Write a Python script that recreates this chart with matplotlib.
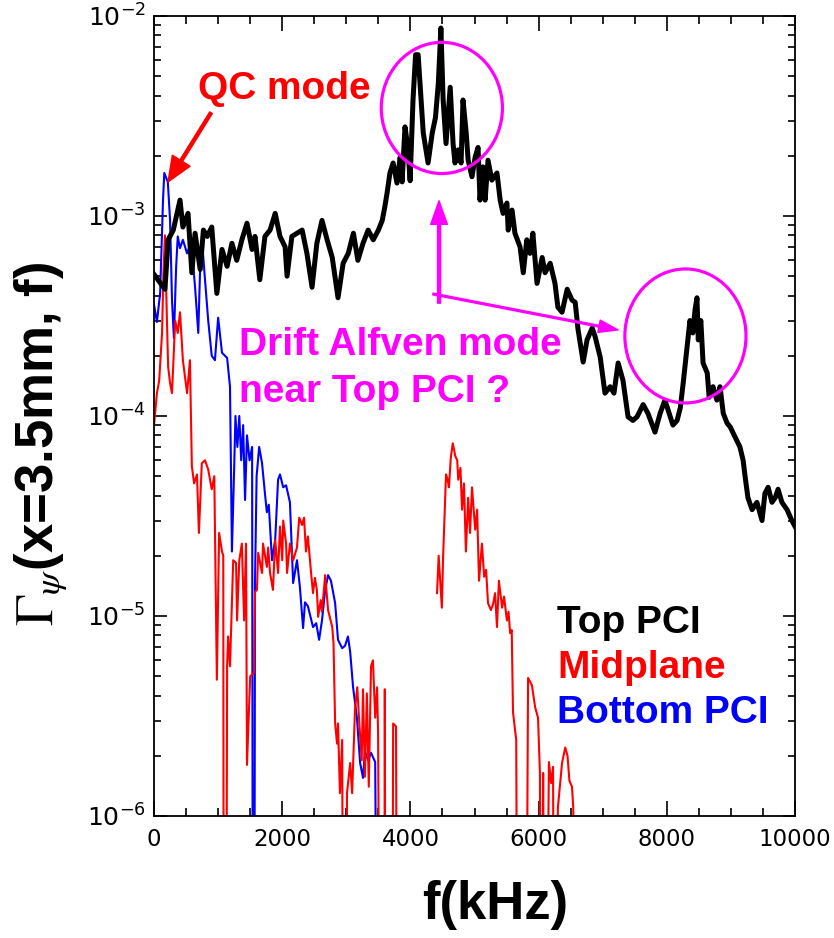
import numpy as np
import matplotlib
matplotlib.use("Agg")
import matplotlib.pyplot as plt
from matplotlib.patches import Ellipse
from matplotlib.ticker import MultipleLocator, LogLocator, NullFormatter

plt.rcParams['font.family'] = ['Liberation Sans', 'DejaVu Sans']
plt.rcParams['mathtext.fontset'] = 'stix'

# ---- Top PCI (black) ----
f_top = [0, 170, 220, 300, 405, 450, 530, 590, 640, 720, 770, 830, 900, 980,
         1060, 1140, 1215, 1290, 1370, 1450, 1530, 1575, 1650, 1730, 1810, 1890,
         1965, 2045, 2075, 2150, 2230, 2310, 2385, 2465, 2540, 2620, 2700, 2780,
         2870, 2950, 3030, 3110, 3180, 3260, 3340, 3420, 3500, 3560, 3600, 3635,
         3680, 3730, 3790, 3840, 3870, 3915, 3960, 3995, 4040, 4080, 4120, 4200,
         4275, 4340, 4390, 4435, 4475, 4510, 4555, 4620, 4665, 4695, 4745, 4790,
         4820, 4870, 4900, 4960, 5010, 5055, 5085, 5130, 5165, 5210, 5270, 5350,
         5400, 5445, 5505, 5525, 5585, 5630, 5710, 5760, 5815, 5865, 5910, 5975,
         6055, 6100, 6180, 6255, 6300, 6365, 6445, 6520, 6570, 6615, 6695, 6755,
         6835, 6880, 6960, 7035, 7115, 7175, 7240, 7315, 7395, 7470, 7535, 7630,
         7705, 7815, 7895, 7970, 8020, 8095, 8160, 8210, 8255, 8315, 8360, 8405,
         8440, 8470, 8490, 8530, 8565, 8630, 8660, 8720, 8780, 8830, 8880, 8940,
         8990, 9035, 9140, 9190, 9220, 9265, 9330, 9405, 9485, 9530, 9580, 9640,
         9690, 9735, 9795, 9875, 9950, 10000]
v_top = [5.1e-4, 4.3e-4, 7.6e-4, 8.5e-4, 1.2e-3, 8.8e-4, 1.03e-3, 5.2e-4, 8.2e-4,
         5.4e-4, 8.5e-4, 7.9e-4, 8.8e-4, 4.1e-4, 6.8e-4, 5.6e-4, 7.3e-4, 6.0e-4,
         7.6e-4, 9.2e-4, 6.8e-4, 7.9e-4, 4.8e-4, 7.9e-4, 8.5e-4, 1.03e-3, 7.9e-4,
         7.0e-4, 5.0e-4, 7.9e-4, 8.2e-4, 8.5e-4, 6.5e-4, 4.4e-4, 7.3e-4, 9.5e-4,
         7.6e-4, 6.2e-4, 3.9e-4, 5.8e-4, 6.5e-4, 8.2e-4, 6.0e-4, 7.3e-4, 8.5e-4,
         7.6e-4, 8.5e-4, 9.5e-4, 1.11e-3, 1.30e-3, 1.64e-3, 1.84e-3, 1.46e-3,
         1.97e-3, 1.48e-3, 2.79e-3, 2.2e-3, 1.5e-3, 3.8e-3, 6.4e-3, 6.4e-3,
         2.6e-3, 1.84e-3, 2.6e-3, 3.1e-3, 4.6e-3, 8.7e-3, 3.8e-3, 2.3e-3, 4.4e-3,
         2.3e-3, 1.84e-3, 2.14e-3, 1.84e-3, 3.8e-3, 2.6e-3, 1.9e-3, 1.57e-3,
         1.97e-3, 2.2e-3, 1.2e-3, 1.76e-3, 1.2e-3, 1.9e-3, 1.51e-3, 1.64e-3,
         1.2e-3, 1.03e-3, 1.16e-3, 8.5e-4, 1.07e-3, 8.2e-4, 7.0e-4, 5.2e-4,
         7.6e-4, 6.5e-4, 8.2e-4, 4.6e-4, 6.2e-4, 5.2e-4, 5.8e-4, 4.6e-4, 3.5e-4,
         3.3e-4, 4.3e-4, 3.8e-4, 3.7e-4, 2.7e-4, 1.86e-4, 2.4e-4, 2.75e-4, 2.5e-4,
         1.97e-4, 1.30e-4, 1.40e-4, 1.30e-4, 1.84e-4, 1.51e-4, 9.9e-5, 9.5e-5,
         9.9e-5, 1.14e-4, 1.03e-4, 8.3e-5, 1.03e-4, 1.2e-4, 1.07e-4, 9.0e-5,
         9.5e-5, 1.1e-4, 1.46e-4, 2.2e-4, 3.0e-4, 2.6e-4, 3.4e-4, 3.9e-4, 2.4e-4,
         3.0e-4, 1.84e-4, 1.64e-4, 1.24e-4, 1.4e-4, 1.2e-4, 1.4e-4, 1.03e-4,
         9.2e-5, 8.8e-5, 8.2e-5, 7.0e-5, 6.0e-5, 5.0e-5, 3.9e-5, 3.4e-5, 3.7e-5,
         3.0e-5, 4.1e-5, 4.4e-5, 3.7e-5, 3.9e-5, 4.3e-5, 3.7e-5, 3.4e-5, 3.0e-5,
         2.8e-5]

# ---- Midplane (red) ; 1e-8 = dropped below the plot, nan = not drawn ----
f_mid = [0, 45, 80, 125, 145, 170, 200, 220, 250, 280, 330, 370, 405, 450, 515,
         560, 590, 625, 670, 700, 745, 795, 845, 900, 940, 980, 1015, 1060, 1080,
         1090, 1120, 1140, 1155, 1185, 1235, 1280, 1295, 1330, 1370, 1405, 1435,
         1450, 1500, 1560, 1575, 1605, 1625, 1685, 1700, 1760, 1780, 1810, 1855,
         1890, 1935, 1965, 2000, 2015, 2060, 2075, 2120, 2170, 2230, 2265, 2310,
         2340, 2370, 2400, 2450, 2480, 2510, 2540, 2560, 2600, 2620, 2670, 2715,
         2780, 2800, 2825, 2855, 2870, 2900, 2935, 2960, 3000, 3010, 3060, 3090,
         3135, 3170, 3200, 3240, 3260, 3290, 3320, 3350, 3385, 3415, 3450, 3480,
         3495, 3540, 3590, 3600, 3615, 3710, 3730, 3775, 3800, 3810,
         4410, 4415, 4440, 4490, 4510, 4555, 4580, 4600, 4630, 4660, 4700, 4730,
         4745, 4780, 4805, 4835, 4865, 4900, 4930, 4960, 5010, 5040, 5070, 5115,
         5150, 5180, 5210, 5255, 5290, 5320, 5350, 5380, 5430, 5460, 5505, 5530,
         5555, 5580, 5600, 5650, 5680, 5790, 5835, 5895, 5945, 5990, 6020, 6040,
         6070, 6100, 6160, 6195, 6225, 6245, 6300, 6365, 6415, 6450, 6480, 6520,
         6540, 6600]
v_mid = [9.0e-5, 1.3e-4, 1.5e-4, 2.6e-4, 5.0e-4, 8.0e-4, 3.1e-4, 1.76e-4, 1.46e-4,
         1.3e-4, 3.0e-4, 2.6e-4, 3.3e-4, 1.9e-4, 1.3e-4, 1.9e-4, 5.6e-5, 4.6e-5,
         5.1e-5, 2.6e-5, 5.8e-5, 6.0e-5, 5.4e-5, 4.3e-5, 5.0e-5, 4.8e-6, 2.6e-5,
         2.1e-5, 2.0e-5, 1e-8, 1e-8, 5.6e-6, 7.9e-6, 5.6e-6, 1.9e-5, 1.84e-5,
         9.5e-6, 1.9e-5, 2.3e-5, 9.5e-6, 2.3e-5, 1.8e-6, 5.0e-6, 5.2e-6, 1.32e-5,
         1.35e-5, 2.07e-5, 1.64e-5, 2.3e-5, 1.76e-5, 2.2e-5, 1.64e-5, 1.35e-5,
         2.4e-5, 1.64e-5, 2.8e-5, 1.9e-5, 3.0e-5, 2.3e-5, 1.64e-5, 2.3e-5, 1.9e-5,
         2.2e-5, 3.1e-5, 2.85e-5, 3.1e-5, 2.1e-5, 2.5e-5, 1.64e-5, 1.3e-5, 1.55e-5,
         1.35e-5, 9.9e-6, 1.2e-5, 1.05e-5, 1.6e-5, 1.07e-5, 8.8e-6, 7.3e-6, 2.9e-6,
         2.3e-6, 2.9e-6, 1.3e-6, 2.4e-6, 1e-8, 1e-8, 1.3e-6, 1.84e-6, 1.3e-6,
         3.4e-6, 4.4e-6, 3.0e-6, 1.9e-6, 4.3e-6, 1.57e-6, 4.1e-6, 1.4e-6, 5.6e-6,
         6.0e-6, 3.1e-6, 4.4e-6, 2.6e-6, 1e-8, 1e-8, 4.3e-6, 1e-8, 1e-8, 2.9e-6,
         2.8e-6, 1e-8, np.nan,
         np.nan, 1.3e-5, 2.0e-5, 1.1e-5, 2.0e-5, 5.1e-5, 4.8e-5, 4.4e-5, 6.2e-5,
         7.3e-5, 6.3e-5, 6.0e-5, 4.8e-5, 5.5e-5, 3.4e-5, 4.6e-5, 2.1e-5, 3.9e-5,
         2.6e-5, 4.4e-5, 2.7e-5, 3.4e-5, 1.5e-5, 2.3e-5, 1.57e-5, 1.7e-5, 1.16e-5,
         1.07e-5, 1.15e-5, 1.3e-5, 8.8e-6, 1.5e-5, 1.1e-5, 1.25e-5, 9.5e-6,
         1.05e-5, 8.2e-6, 8.5e-6, 3.3e-6, 2.4e-6, 1e-8, 1e-8, 4.9e-6, 4.5e-6,
         3.5e-6, 3.1e-6, 1.64e-6, 1e-8, 1.64e-6, 1e-8, 1.86e-6, 1.46e-6, 1.76e-6,
         1e-8, 1.1e-6, 1.84e-6, 2.2e-6, 2.0e-6, 1.5e-6, 1.4e-6, 1.1e-6, 1e-8]

# ---- Bottom PCI (blue) ----
f_bot = [0, 45, 95, 140, 160, 215, 250, 280, 310, 345, 370, 405, 450, 515, 580,
         640, 690, 720, 750, 795, 845, 900, 950, 1000, 1060, 1140, 1185, 1215,
         1250, 1270, 1300, 1330, 1360, 1390, 1420, 1450, 1490, 1530, 1545, 1560,
         1575, 1600, 1640, 1685, 1730, 1760, 1790, 1840, 1890, 1935, 1965, 2015,
         2060, 2120, 2170, 2230, 2275, 2325, 2355, 2400, 2480, 2530, 2575, 2620,
         2670, 2715, 2760, 2825, 2870, 2935, 2980, 3025, 3060, 3105, 3165, 3215,
         3260, 3290, 3340, 3385, 3450, 3500]
v_bot = [3.6e-4, 2.95e-4, 4.1e-4, 1.2e-3, 1.64e-3, 1.48e-3, 9.5e-4, 3.8e-4,
         2.45e-4, 5.6e-4, 7.9e-4, 6.9e-4, 7.6e-4, 6.5e-4, 7.4e-4, 4.4e-4, 2.6e-4,
         5.6e-4, 7.4e-4, 4.8e-4, 3.0e-4, 2.0e-4, 1.9e-4, 3.1e-4, 2.07e-4, 1.95e-4,
         1.4e-4, 2.1e-5, 5.5e-5, 1.0e-4, 7.0e-5, 1.0e-4, 6.0e-5, 9.0e-5, 3.8e-5,
         8.0e-5, 6.0e-5, 7.0e-5, 1e-8, 1e-8, 1.46e-5, 5.0e-5, 7.0e-5, 5.8e-5,
         4.1e-5, 3.3e-5, 3.6e-5, 1.9e-5, 2.4e-5, 4.8e-5, 5.1e-5, 4.4e-5, 4.5e-5,
         3.7e-5, 1.46e-5, 1.9e-5, 1.4e-5, 8.7e-6, 1.17e-5, 1.12e-5, 8.8e-6, 9.2e-6,
         7.6e-6, 9.5e-6, 1.35e-5, 1.6e-5, 1.5e-5, 1.16e-5, 7.6e-6, 6.9e-6, 7.1e-6,
         7.9e-6, 6.6e-6, 4.4e-6, 3.1e-6, 1.84e-6, 1.55e-6, 2.1e-6, 1.9e-6, 2.07e-6,
         1.86e-6, 1e-8]

y_ticks = [1e-6, 1e-5, 1e-4, 1e-3, 1e-2]
y_tick_labels = [r'$\mathdefault{10^{-6}}$', r'$\mathdefault{10^{-5}}$',
                 r'$\mathdefault{10^{-4}}$', r'$\mathdefault{10^{-3}}$',
                 r'$\mathdefault{10^{-2}}$']
x_ticks = [0, 2000, 4000, 6000, 8000, 10000]

fig = plt.figure(figsize=(8.34, 9.38), dpi=100)
ax = fig.add_axes([0.1847, 0.1301, 0.7686, 0.8529])

ax.plot(f_bot, v_bot, color='#0000FF', lw=1.5, zorder=2)
ax.plot(f_mid, v_mid, color='#FF0000', lw=1.5, zorder=2)
ax.plot(f_top, v_top, color='black', lw=3.6, zorder=3)

ax.set_yscale('log')
ax.set_xlim(0, 10000)
ax.set_ylim(1e-6, 1e-2)

# IDL style ticks: inward on all four sides
ax.set_xticks(x_ticks)
ax.xaxis.set_minor_locator(MultipleLocator(500))
ax.set_yticks(y_ticks)
ax.set_yticklabels(y_tick_labels)
ax.yaxis.set_minor_locator(LogLocator(base=10, subs=np.arange(2, 10)))
ax.yaxis.set_minor_formatter(NullFormatter())
ax.tick_params(which='both', direction='in', top=True, right=True, width=1.2,
               labelfontfamily='DejaVu Sans')
ax.tick_params(axis='x', which='major', length=11, pad=9, labelsize=16.5)
ax.tick_params(axis='x', which='minor', length=5.5)
ax.tick_params(axis='y', which='major', length=9, pad=6, labelsize=18)
ax.tick_params(axis='y', which='minor', length=5)
for s in ax.spines.values():
    s.set_linewidth(1.3)

ax.set_xlabel('f(kHz)', fontsize=38, fontweight='bold', va='center')
ax.xaxis.set_label_coords(0.532, -0.111)
ax.set_ylabel(r'$\Gamma_{\psi}$(x=3.5mm, f)', fontsize=38, fontweight='bold', va='center')
ax.yaxis.set_label_coords(-0.176, 0.465)

# annotations
ax.text(0.0686, 0.896, 'QC mode', color='#FF0000', fontsize=28, fontweight='bold',
        transform=ax.transAxes, va='baseline')
ax.annotate('', xy=(0.0218, 0.7925), xytext=(0.0889, 0.879), xycoords='axes fraction',
            arrowprops=dict(facecolor='#FF0000', edgecolor='#FF0000', width=2.2,
                            headwidth=15, headlength=18, shrink=0))

magenta = '#FF00FF'
ax.text(0.1326, 0.576, 'Drift Alfven mode', color=magenta, fontsize=28,
        fontweight='bold', transform=ax.transAxes, va='baseline')
ax.text(0.1326, 0.5175, 'near Top PCI ?', color=magenta, fontsize=28,
        fontweight='bold', transform=ax.transAxes, va='baseline')
ax.add_patch(Ellipse((0.449, 0.885), 0.189, 0.164, transform=ax.transAxes,
                     fill=False, edgecolor=magenta, lw=2.3, zorder=4))
ax.add_patch(Ellipse((0.829, 0.600), 0.189, 0.1675, transform=ax.transAxes,
                     fill=False, edgecolor=magenta, lw=2.3, zorder=4))
ax.annotate('', xy=(0.4446, 0.769), xytext=(0.4446, 0.641), xycoords='axes fraction',
            arrowprops=dict(facecolor=magenta, edgecolor=magenta, width=2.2,
                            headwidth=12, headlength=17, shrink=0))
ax.annotate('', xy=(0.724, 0.6075), xytext=(0.435, 0.6525), xycoords='axes fraction',
            arrowprops=dict(facecolor=magenta, edgecolor=magenta, width=1.3,
                            headwidth=9, headlength=14, shrink=0))

# legend as coloured words
ax.text(0.629, 0.229, 'Top PCI', color='black', fontsize=28, fontweight='bold',
        transform=ax.transAxes, va='baseline')
ax.text(0.629, 0.172, 'Midplane', color='#FF0000', fontsize=28, fontweight='bold',
        transform=ax.transAxes, va='baseline')
ax.text(0.629, 0.116, 'Bottom PCI', color='#0000FF', fontsize=28, fontweight='bold',
        transform=ax.transAxes, va='baseline')

fig.savefig('out.png', dpi=100)
